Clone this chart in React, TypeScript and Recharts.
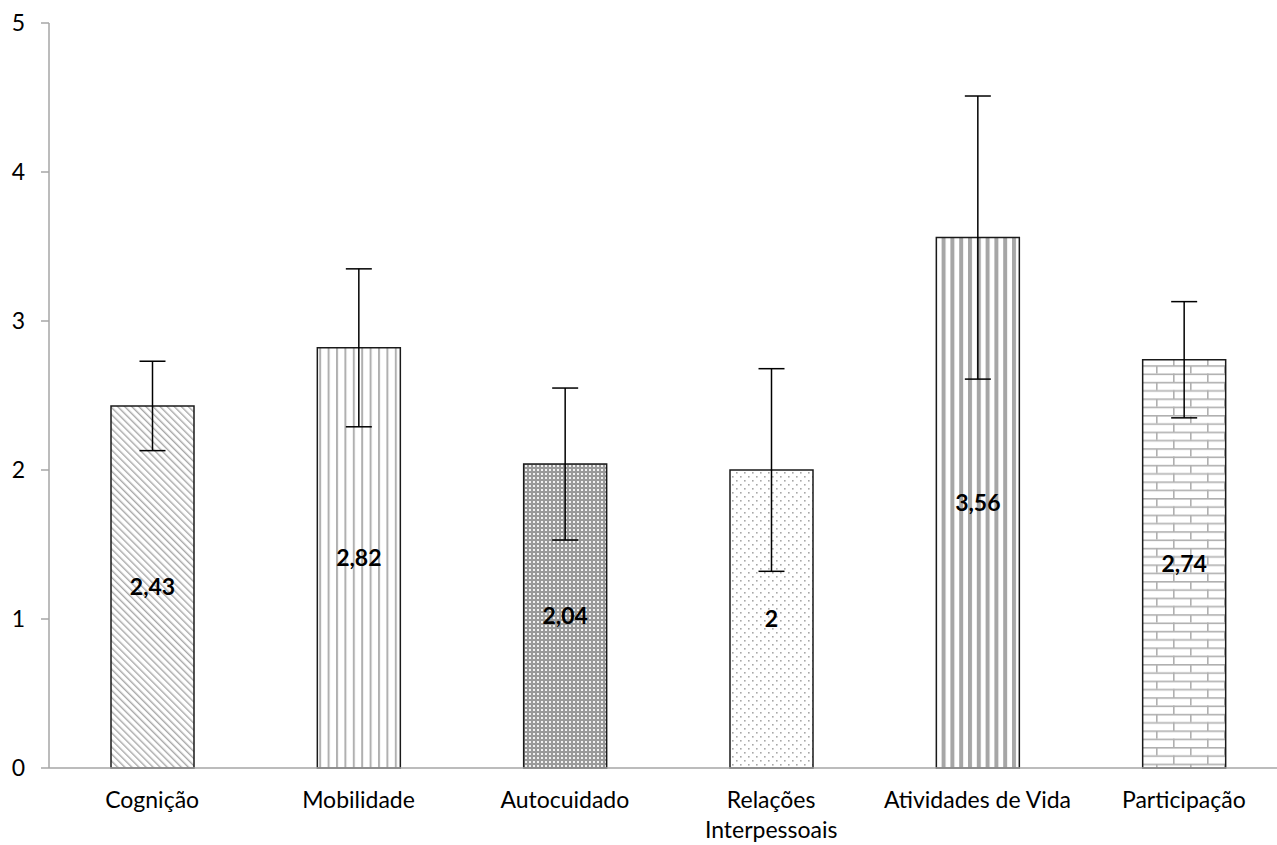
import { Bar, BarChart, Cell, ErrorBar, LabelList, XAxis, YAxis } from "recharts";

const categories = [
  "Cognição",
  "Mobilidade",
  "Autocuidado",
  "Relações Interpessoais",
  "Atividades de Vida",
  "Participação",
];
const means = [2.43, 2.82, 2.04, 2, 3.56, 2.74];
const errors = [0.3, 0.53, 0.51, 0.68, 0.95, 0.39];
const yTicks = [0, 1, 2, 3, 4, 5];

const data = categories.map((name, i) => ({ name, mean: means[i], err: errors[i] }));

const FONT = "Lato, 'Open Sans', sans-serif";
const AXIS = "#a6a6a6";

// greedy word wrap by character count (Excel wraps long category names)
function wrap(label: string, maxChars = 20) {
  const lines: string[] = [];
  let cur = "";
  for (const w of label.split(" ")) {
    const next = cur ? cur + " " + w : w;
    if (next.length > maxChars && cur) {
      lines.push(cur);
      cur = w;
    } else cur = next;
  }
  if (cur) lines.push(cur);
  return lines;
}

function CategoryTick(props: any) {
  const { x, y, payload } = props;
  const lines = wrap(String(payload.value));
  return (
    <text
      x={x}
      y={y + 32}
      textAnchor="middle"
      style={{ fontFamily: FONT, fontSize: 23, fill: "#000" }}
    >
      {lines.map((l, i) => (
        <tspan key={i} x={x} dy={i === 0 ? 0 : 30}>
          {l}
        </tspan>
      ))}
    </text>
  );
}

const fmt = (v: any) => String(v).replace(".", ",");

export default function App() {
  return (
    <div
      style={{
        position: "absolute",
        left: 0,
        top: 0,
        width: 1277,
        height: 845,
        overflow: "hidden",
        background: "#fff",
      }}
    >
      <BarChart
        width={1290}
        height={845}
        data={data}
        margin={{ top: 23, right: 3, bottom: 0, left: 0 }}
        barCategoryGap="30%"
      >
        <defs>
          {/* diagonal "\" lines */}
          <pattern id="p0" width="5" height="5" patternUnits="userSpaceOnUse" patternTransform="rotate(-45)">
            <rect width="5" height="5" fill="#fff" />
            <rect x="0" y="0" width="1.4" height="5" fill="#a8a8a8" />
          </pattern>
          {/* narrow vertical lines */}
          <pattern id="p1" width="8.4" height="8" patternUnits="userSpaceOnUse">
            <rect width="8.4" height="8" fill="#fff" />
            <rect x="0" y="0" width="2" height="8" fill="#b0b0b0" />
          </pattern>
          {/* dense grid */}
          <pattern id="p2" width="4" height="4" patternUnits="userSpaceOnUse">
            <rect width="4" height="4" fill="#9a9a9a" />
            <rect x="1" y="1" width="2" height="2" fill="#f2f2f2" />
          </pattern>
          {/* sparse dots */}
          <pattern id="p3" width="8" height="8" patternUnits="userSpaceOnUse">
            <rect width="8" height="8" fill="#fff" />
            <rect x="0" y="0" width="1.6" height="1.6" fill="#a8a8a8" />
            <rect x="4" y="4" width="1.6" height="1.6" fill="#a8a8a8" />
          </pattern>
          {/* wide vertical stripes */}
          <pattern id="p4" width="8.8" height="8" patternUnits="userSpaceOnUse">
            <rect width="8.8" height="8" fill="#fff" />
            <rect x="0" y="0" width="4" height="8" fill="#a6a6a6" />
          </pattern>
          {/* bricks */}
          <pattern id="p5" width="34" height="16.6" patternUnits="userSpaceOnUse">
            <rect width="34" height="16.6" fill="#fff" />
            <rect x="0" y="0" width="34" height="1.6" fill="#b0b0b0" />
            <rect x="0" y="8.3" width="34" height="1.6" fill="#b0b0b0" />
            <rect x="0" y="0" width="1.6" height="8.3" fill="#b0b0b0" />
            <rect x="17" y="8.3" width="1.6" height="8.3" fill="#b0b0b0" />
          </pattern>
        </defs>
        <XAxis
          dataKey="name"
          height={77}
          interval={0}
          tickLine={false}
          axisLine={{ stroke: AXIS, strokeWidth: 1.5 }}
          tick={<CategoryTick />}
        />
        <YAxis
          domain={[0, 5]}
          ticks={yTicks}
          width={49}
          tickSize={8}
          tickMargin={16}
          axisLine={{ stroke: AXIS, strokeWidth: 1.5 }}
          tickLine={{ stroke: AXIS, strokeWidth: 1.5 }}
          tick={{ fill: "#000", fontSize: 23, fontFamily: FONT }}
        />
        <Bar dataKey="mean" barSize={83} isAnimationActive={false} stroke="#1a1a1a" strokeWidth={1.5}>
          {data.map((d, i) => (
            <Cell key={d.name} fill={`url(#p${i})`} />
          ))}
          <ErrorBar dataKey="err" width={13} stroke="#000" strokeWidth={1.5} direction="y" isAnimationActive={false} />
          <LabelList
            dataKey="mean"
            position="center"
            formatter={fmt}
            style={{ fill: "#000", fontSize: 23, fontWeight: 700, fontFamily: FONT }}
          />
        </Bar>
      </BarChart>
    </div>
  );
}
